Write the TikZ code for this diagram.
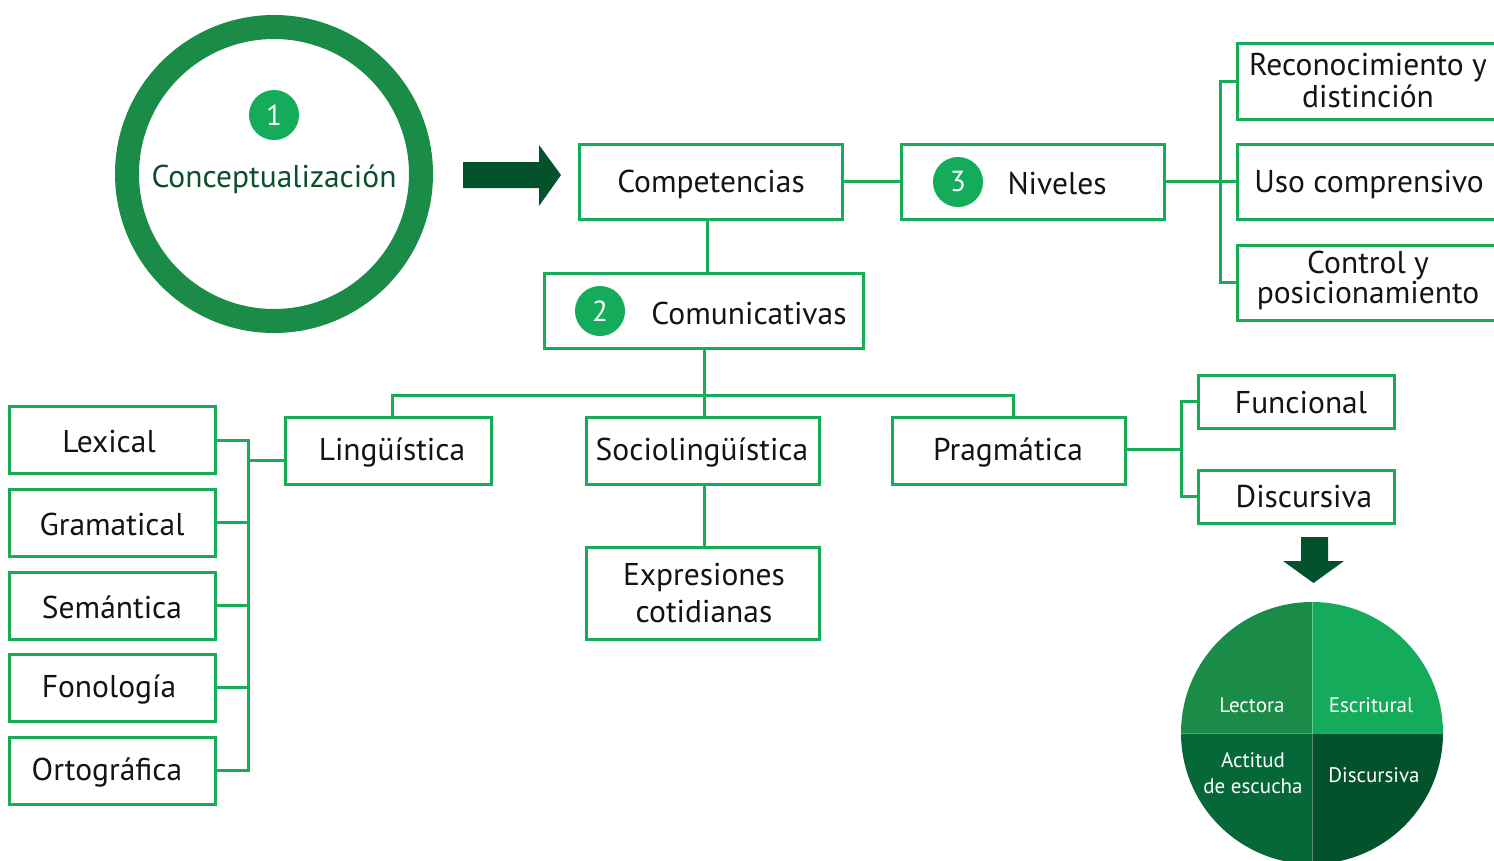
\documentclass[tikz,border=0pt]{standalone}
\usepackage{fontspec}
\setmainfont{PT Sans}
\usetikzlibrary{calc}
\definecolor{lineg}{RGB}{22,172,88}
\definecolor{ringg}{RGB}{27,140,72}
\definecolor{darkg}{RGB}{4,82,44}
\definecolor{pieTL}{RGB}{27,140,72}
\definecolor{pieTR}{RGB}{20,172,90}
\definecolor{pieBL}{RGB}{6,103,56}
\definecolor{pieBR}{RGB}{3,82,43}
\definecolor{txtc}{RGB}{20,20,20}
\definecolor{conc}{RGB}{11,79,44}
\tikzset{
  box/.style={draw=lineg, line width=3pt, rectangle, inner sep=0pt, align=center,
    text=txtc, font=\fontsize{31.5}{32}\selectfont},
  txt/.style={inner sep=0pt, align=center, text=txtc, font=\fontsize{31.5}{32}\selectfont},
  conn/.style={draw=lineg, line width=3pt},
  badge/.style={circle, fill=pieTR, minimum size=50pt, inner sep=0pt, text=white,
    font=\fontsize{29}{30}\selectfont},
  pietxt/.style={inner sep=0pt, align=center, text=white, font=\fontsize{21}{26}\selectfont},
}
\begin{document}
\begin{tikzpicture}[x=1pt,y=-1pt]
\useasboundingbox (0,0) rectangle (1494,860);
\clip (0,0) rectangle (1494,860);
\fill[white] (0,0) rectangle (1494,860);

% Conceptualization ring
\draw[ringg, line width=24pt] (274,174) circle (147pt);
\node[badge] (b1) at (274,115) {1};
\node[inner sep=0pt, text=conc, font=\fontsize{31.5}{32}\selectfont] (concept) at (274,179) {Conceptualización};

% big arrow
\fill[darkg] (463,162) -- (539,162) -- (539,145) -- (561,175) -- (539,206) -- (539,188) -- (463,188) -- cycle;

% top row
\node[box, minimum width=263pt, minimum height=75pt] (comp) at (710.5,181.5) {};
\node[txt] (compt) at (711,184) {Competencias};
\node[box, minimum width=263pt, minimum height=75pt] (niv) at (1032.5,181.5) {};
\node[badge] (b3) at (958,182) {3};
\node[txt] (nivt) at (1057,183) {Niveles};

\node[box, minimum width=283pt, minimum height=76pt] (reco) at (1378.5,81) {};
\node[txt] (recot) at (1368,81) {Reconocimiento y\\distinción};
\node[box, minimum width=283pt, minimum height=75pt] (uso) at (1378.5,181.5) {};
\node[txt] (usot) at (1369,184) {Uso comprensivo};
\node[box, minimum width=283pt, minimum height=75pt] (ctrl) at (1378.5,282.5) {};
\node[txt, font=\fontsize{31.5}{30}\selectfont] (ctrlt) at (1368,280) {Control y\\posicionamiento};

% Comunicativas
\node[box, minimum width=319pt, minimum height=75pt] (comu) at (703.5,310.5) {};
\node[badge] (b2) at (600,311) {2};
\node[txt] (comut) at (749,313) {Comunicativas};

% second row
\node[box, minimum width=206pt, minimum height=67pt] (ling) at (388,450.5) {};
\node[txt] (lingt) at (392,452) {Lingüística};
\node[box, minimum width=233pt, minimum height=67pt] (socio) at (702.5,450.5) {};
\node[txt] (sociot) at (702,452) {Sociolingüística};
\node[box, minimum width=233pt, minimum height=67pt] (prag) at (1008.5,450.5) {};
\node[txt] (pragt) at (1008,452) {Pragmática};
\node[box, minimum width=233pt, minimum height=92pt] (expr) at (702.5,593) {};
\node[txt, font=\fontsize{31.5}{37}\selectfont] (exprt) at (704,593) {Expresiones\\cotidianas};

\node[box, minimum width=196pt, minimum height=53pt] (func) at (1296,401.5) {};
\node[txt] (funct) at (1301,403) {Funcional};
\node[box, minimum width=196pt, minimum height=53pt] (disc) at (1296,496.5) {};
\node[txt] (disct) at (1304,497) {Discursiva};

% left column
\node[box, minimum width=206pt, minimum height=67pt] (lex) at (112,440) {};
\node[txt] (lext) at (109,442) {Lexical};
\node[box, minimum width=206pt, minimum height=67pt] (gram) at (112,522.5) {};
\node[txt] (gramt) at (112,524) {Gramatical};
\node[box, minimum width=206pt, minimum height=67pt] (sem) at (112,605.5) {};
\node[txt] (semt) at (112,607) {Semántica};
\node[box, minimum width=206pt, minimum height=67pt] (fon) at (112,687.5) {};
\node[txt] (font) at (109,689) {Fonología};
\node[box, minimum width=206pt, minimum height=67pt] (ort) at (112,770.5) {};
\node[txt] (ortt) at (107,772) {Ortográfica};

% connectors
\coordinate (rv) at (1220,0);
\coordinate (lv) at (248,0);
\coordinate (busL) at (392,395);
\coordinate (busM) at (704,395);
\coordinate (busR) at (1013,395);
\coordinate (lingin) at (248,460);
\coordinate (pv) at (1181,0);

\draw[conn] (comp) -- (niv);
\draw[conn] (niv.east) -- (niv.east -| rv);
\draw[conn] (reco.west) -| (rv |- ctrl.west) -- (ctrl.west);
\draw[conn] (uso.west) -- (uso.west -| rv);

\draw[conn] ($(comp.south)+(-3.5,0)$) -- ($(comu.north)+(3.5,0)$);
\draw[conn] (comu.south -| busM) -- (socio.north -| busM);
\draw[conn] (busL |- ling.north) -- (busL) -- (busR) -- (busR |- prag.north);
\draw[conn] (socio.south -| busM) -- (expr.north -| busM);

\draw[conn] (lex.east) -| (lv |- ort.east) -- (ort.east);
\draw[conn] (gram.east) -- (gram.east -| lv);
\draw[conn] (sem.east) -- (sem.east -| lv);
\draw[conn] (fon.east) -- (fon.east -| lv);
\draw[conn] (lingin) -- (lingin -| ling.west);

\draw[conn] ($(prag.east)+(0,-1.5)$) -- ($(prag.east -| pv)+(0,-1.5)$);
\draw[conn] (func.west) -| (pv |- disc.west) -- (disc.west);

% down arrow
\fill[darkg] (1301,537) -- (1328,537) -- (1328,561) -- (1344,561) -- (1313.5,583) -- (1283,561) -- (1301,561) -- cycle;

% pie
\begin{scope}
\clip (1312,733) circle (131pt);
\fill[pieTL] (1170,590) rectangle (1312,733);
\fill[pieTR] (1312,590) rectangle (1450,733);
\fill[pieBL] (1170,733) rectangle (1312,870);
\fill[pieBR] (1312,733) rectangle (1450,870);
\draw[white, opacity=0.35, line width=1pt] (1312,590) -- (1312,870);
\draw[white, opacity=0.35, line width=1pt] (1170,733) -- (1450,733);
\end{scope}
\node[pietxt] (p1) at (1252,705) {Lectora};
\node[pietxt] (p2) at (1371,705) {Escritural};
\node[pietxt] (p3) at (1253,773) {Actitud\\de escucha};
\node[pietxt] (p4) at (1374,775) {Discursiva};
\end{tikzpicture}
\end{document}
